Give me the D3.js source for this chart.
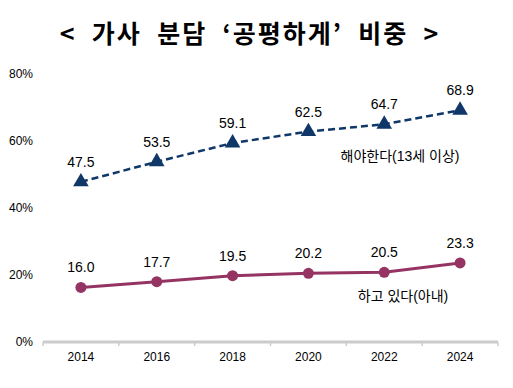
<!DOCTYPE html>
<html><head><meta charset="utf-8">
<script src="https://cdn.jsdelivr.net/npm/d3@7"></script>
<style>body{margin:0;background:#fff;} svg{display:block;}</style>
</head><body>
<svg id="c" width="513" height="388"></svg>
<script>
const years = ["2014","2016","2018","2020","2022","2024"];
const shouldValues = [47.5,53.5,59.1,62.5,64.7,68.9];
const doingValues = [16.0,17.7,19.5,20.2,20.5,23.3];
const yTicks = [0,20,40,60,80];
const titleText = "<  가사  분담  ‘공평하게’  비중  >";
const shouldLabel = "해야한다(13세 이상)";
const doingLabel = "하고 있다(아내)";

const svg = d3.select("#c");
const font = "Arial, 'Liberation Sans', 'Noto Sans CJK KR', sans-serif";
const x = d3.scaleBand().domain(years).range([43, 498]);
const y = d3.scaleLinear().domain([0, 80]).range([341, 73]);
const cx = d => x(d) + x.bandwidth()/2;

svg.append("text").attr("x", 250).attr("y", 43).attr("text-anchor","middle")
  .style("white-space","pre")
  .attr("font-family","'Noto Sans CJK KR', sans-serif").attr("font-weight","bold")
  .attr("font-size",25).attr("letter-spacing",2).attr("fill","#000").text(titleText);

// y labels
svg.append("g").selectAll("text").data(yTicks).join("text")
  .attr("x", 33).attr("y", d => y(d) + 5).attr("text-anchor","end")
  .attr("font-family", font).attr("font-size", 12).attr("fill","#000")
  .text(d => d + "%");

// x axis
const xAxis = d3.axisBottom(x).tickSize(0).tickPadding(9);
const gx = svg.append("g").attr("transform","translate(0,341)").call(xAxis);
gx.select(".domain").remove();
gx.selectAll("text").attr("font-family", font).attr("font-size", 12).attr("fill","#000").attr("dy","0.9em");
svg.append("line").attr("x1",43).attr("x2",498).attr("y1",342).attr("y2",342)
  .attr("stroke","#cccccc").attr("stroke-width",3);
svg.append("g").selectAll("line").data(d3.range(years.length+1)).join("line")
  .attr("x1", i => 43 + i*x.step()).attr("x2", i => 43 + i*x.step())
  .attr("y1", 342).attr("y2", 346).attr("stroke","#cccccc").attr("stroke-width",1.5);

const navy = "#0f3768", plum = "#953462";
const line = d3.line().x((d,i) => cx(years[i])).y(d => y(d));

svg.append("path").datum(shouldValues).attr("d", line).attr("fill","none")
  .attr("stroke", navy).attr("stroke-width", 2.5).attr("stroke-dasharray","7,4");
svg.append("g").selectAll("path").data(shouldValues).join("path")
  .attr("transform", (d,i) => `translate(${cx(years[i])},${y(d)})`)
  .attr("d", d3.symbol().type(d3.symbolTriangle).size(105)).attr("fill", navy);

svg.append("path").datum(doingValues).attr("d", line).attr("fill","none")
  .attr("stroke", plum).attr("stroke-width", 3);
svg.append("g").selectAll("circle").data(doingValues).join("circle")
  .attr("cx", (d,i) => cx(years[i])).attr("cy", d => y(d)).attr("r", 5.5).attr("fill", plum);

svg.append("g").selectAll("text").data(shouldValues).join("text")
  .attr("x", (d,i) => cx(years[i])).attr("y", d => y(d) - 15).attr("text-anchor","middle")
  .attr("font-family", font).attr("font-size", 14).attr("fill","#000").text(d => d.toFixed(1));
svg.append("g").selectAll("text").data(doingValues).join("text")
  .attr("x", (d,i) => cx(years[i])).attr("y", d => y(d) - 15).attr("text-anchor","middle")
  .attr("font-family", font).attr("font-size", 14).attr("fill","#000").text(d => d.toFixed(1));

svg.append("text").attr("x", 400).attr("y", 161).attr("text-anchor","middle")
  .attr("font-family", font).attr("font-size", 14).attr("fill","#000").text(shouldLabel);
svg.append("text").attr("x", 403).attr("y", 301).attr("text-anchor","middle")
  .attr("font-family", font).attr("font-size", 14).attr("fill","#000").text(doingLabel);
</script>
</body></html>
